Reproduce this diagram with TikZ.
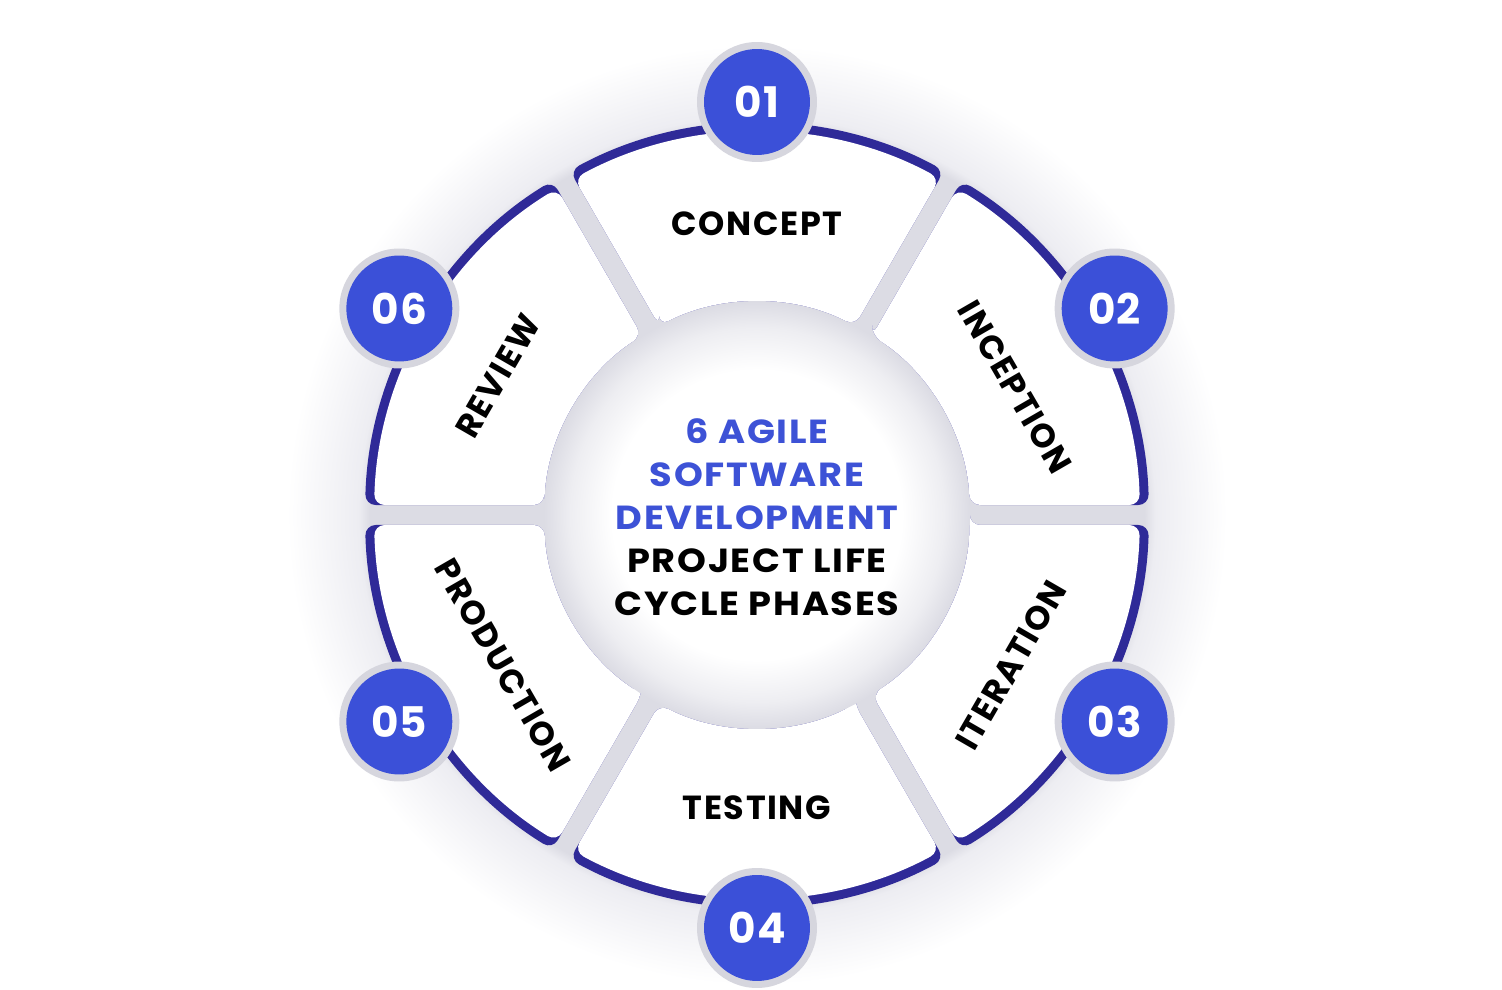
\documentclass[tikz,border=0pt]{standalone}
\usepackage{fontspec}
\setmainfont{Poppins}
\newfontfamily\labelfont{Poppins}[LetterSpace=5]
\newfontfamily\centerfont{Poppins}[FakeStretch=1.1,LetterSpace=5]
\newfontfamily\numfont{Poppins}[LetterSpace=3]
\definecolor{badgeblue}{HTML}{3B50D8}
\definecolor{navy}{HTML}{2F2A98}
\definecolor{gapgray}{HTML}{DCDCE4}
\definecolor{ringgray}{HTML}{D6D6DE}
\definecolor{titleblue}{HTML}{3D52D6}
\definecolor{halogray}{HTML}{EDEDF2}
\pgfdeclareradialshading{halo}{\pgfpoint{0bp}{0bp}}{color(0bp)=(gapgray); color(20.6bp)=(gapgray); color(21.2bp)=(halogray); color(25bp)=(white); color(50bp)=(white)}
\pgfdeclareradialshading{hub}{\pgfpoint{0bp}{0bp}}{color(0bp)=(white); color(17bp)=(white); color(22bp)=(gapgray!50); color(25bp)=(gapgray); color(50bp)=(gapgray)}
\newcommand\segpath[3]{({#1+30-asin(10/#3)}:#3) -- ({#1+30-asin(10/#2)}:#2) arc[start angle={#1+30-asin(10/#2)}, end angle={#1-30+asin(10/#2)}, radius=#2] -- ({#1-30+asin(10/#3)}:#3) arc[start angle={#1-30+asin(10/#3)}, end angle={#1+30-asin(10/#3)}, radius=#3] -- cycle}
\tikzset{
  phase/.style={font=\labelfont\bfseries\fontsize{19}{19}\selectfont, text=black, inner sep=0pt},
  badgering/.style={circle, fill=ringgray, minimum size=2.4cm, inner sep=0pt},
  badge/.style={circle, fill=badgeblue, minimum size=2.12cm, inner sep=0pt, text=white, font=\numfont\bfseries\fontsize{24}{24}\selectfont},
}
\begin{document}
\begin{tikzpicture}[x=0.02cm,y=0.02cm]
\useasboundingbox (-757,-475) rectangle (745,515);
\fill[white] (-757,-475) rectangle (745,515);
\shade[shading=halo] (0,0) circle (470);
\foreach \a in {90,30,-30,-90,-150,150}{
  \fill[navy, rounded corners=6pt] \segpath{\a}{392}{213};
  \fill[white, rounded corners=6pt] \segpath{\a}{383}{213};
}
\shade[shading=hub] (0,0) circle (213);
\node[align=center, font=\centerfont\bfseries\fontsize{19}{24.5}\selectfont] (center) at (0,-2)
  {\textcolor{titleblue}{6 AGILE}\\\textcolor{titleblue}{SOFTWARE}\\\textcolor{titleblue}{DEVELOPMENT}\\PROJECT LIFE\\CYCLE PHASES};
\foreach \a/\n in {90/01,30/02,-30/03,-90/04,-150/05,150/06}{
  \node[badgering] (r\n) at (\a:413) {};
  \node[badge] (b\n) at (\a:413) {\n};
}
\node[phase] (concept) at (0,291) {CONCEPT};
\node[phase, rotate=-60] (inception) at (258,128) {INCEPTION};
\node[phase, rotate=60] (iteration) at (254,-150) {ITERATION};
\node[phase] (testing) at (0,-293) {TESTING};
\node[phase, rotate=-60] (production) at (-254,-150) {PRODUCTION};
\node[phase, rotate=60] (review) at (-259,139) {REVIEW};
\end{tikzpicture}
\end{document}
